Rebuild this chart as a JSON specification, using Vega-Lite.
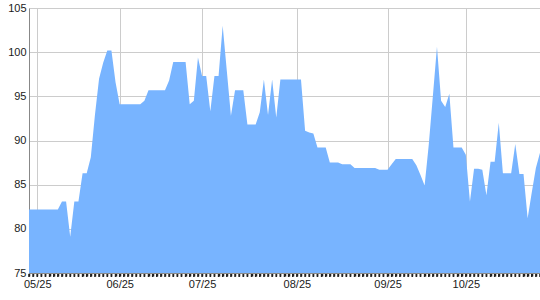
{
  "$schema": "https://vega.github.io/schema/vega-lite/v6.json",
  "autosize": {"type": "none"},
  "padding": {"left": 29, "top": 8, "right": 0, "bottom": 27},
  "width": 511,
  "height": 265,
  "background": "white",
  "config": {"view": {"stroke": null}},
  "data": {"values": [
    {"d":"05/23","v":82.2},{"d":"05/24","v":82.2},{"d":"05/25","v":82.2},{"d":"05/28","v":82.2},{"d":"05/29","v":82.2},
    {"d":"05/30","v":82.2},{"d":"05/31","v":82.2},{"d":"06/01","v":82.2},{"d":"06/04","v":83.1},{"d":"06/05","v":83.1},
    {"d":"06/06","v":79.1},{"d":"06/07","v":83.1},{"d":"06/08","v":83.1},{"d":"06/11","v":86.3},{"d":"06/12","v":86.3},
    {"d":"06/13","v":88.1},{"d":"06/14","v":92.9},{"d":"06/15","v":97.0},{"d":"06/18","v":98.8},{"d":"06/19","v":100.2},
    {"d":"06/20","v":100.2},{"d":"06/21","v":96.6},{"d":"06/25","v":94.1},{"d":"06/26","v":94.1},{"d":"06/27","v":94.1},
    {"d":"06/28","v":94.1},{"d":"06/29","v":94.1},{"d":"07/02","v":94.1},{"d":"07/03","v":94.5},{"d":"07/05","v":95.7},
    {"d":"07/06","v":95.7},{"d":"07/09","v":95.7},{"d":"07/10","v":95.7},{"d":"07/11","v":95.7},{"d":"07/12","v":96.8},
    {"d":"07/13","v":98.9},{"d":"07/16","v":98.9},{"d":"07/17","v":98.9},{"d":"07/18","v":98.9},{"d":"07/19","v":94.1},
    {"d":"07/20","v":94.5},{"d":"07/23","v":99.4},{"d":"07/25","v":97.3},{"d":"07/26","v":97.3},{"d":"07/27","v":93.3},
    {"d":"07/30","v":97.3},{"d":"07/31","v":97.3},{"d":"08/01","v":103.0},{"d":"08/02","v":97.9},{"d":"08/03","v":92.8},
    {"d":"08/06","v":95.7},{"d":"08/07","v":95.7},{"d":"08/08","v":95.7},{"d":"08/09","v":91.8},{"d":"08/10","v":91.8},
    {"d":"08/13","v":91.8},{"d":"08/14","v":93.2},{"d":"08/15","v":96.9},{"d":"08/16","v":92.9},{"d":"08/17","v":96.9},
    {"d":"08/20","v":92.6},{"d":"08/21","v":96.9},{"d":"08/22","v":96.9},{"d":"08/23","v":96.9},{"d":"08/24","v":96.9},
    {"d":"08/25","v":96.9},{"d":"08/27","v":96.9},{"d":"08/28","v":91.1},{"d":"08/29","v":90.9},{"d":"08/30","v":90.8},
    {"d":"08/31","v":89.2},{"d":"09/03","v":89.2},{"d":"09/04","v":89.2},{"d":"09/05","v":87.5},{"d":"09/06","v":87.5},
    {"d":"09/07","v":87.5},{"d":"09/10","v":87.3},{"d":"09/11","v":87.3},{"d":"09/12","v":87.3},{"d":"09/13","v":86.9},
    {"d":"09/14","v":86.9},{"d":"09/17","v":86.9},{"d":"09/18","v":86.9},{"d":"09/19","v":86.9},{"d":"09/20","v":86.9},
    {"d":"09/21","v":86.7},{"d":"09/24","v":86.7},{"d":"09/25","v":86.7},{"d":"09/26","v":87.3},{"d":"09/27","v":87.9},
    {"d":"09/28","v":87.9},{"d":"10/01","v":87.9},{"d":"10/02","v":87.9},{"d":"10/03","v":87.9},{"d":"10/04","v":87.2},
    {"d":"10/05","v":86.1},{"d":"10/08","v":84.9},{"d":"10/09","v":89.5},{"d":"10/10","v":95.0},{"d":"10/11","v":100.6},
    {"d":"10/12","v":94.5},{"d":"10/15","v":93.8},{"d":"10/16","v":95.3},{"d":"10/17","v":89.2},{"d":"10/18","v":89.2},
    {"d":"10/19","v":89.2},{"d":"10/25","v":88.4},{"d":"10/26","v":83.1},{"d":"10/29","v":86.8},{"d":"10/30","v":86.8},
    {"d":"10/31","v":86.7},{"d":"11/01","v":83.8},{"d":"11/02","v":87.6},{"d":"11/05","v":87.6},{"d":"11/06","v":92.0},
    {"d":"11/07","v":86.3},{"d":"11/08","v":86.3},{"d":"11/09","v":86.3},{"d":"11/12","v":89.6},{"d":"11/13","v":86.2},
    {"d":"11/14","v":86.2},{"d":"11/15","v":81.2},{"d":"11/16","v":84.1},{"d":"11/19","v":86.9},{"d":"11/20","v":88.6}
  ]},
  "encoding": {
    "x": {
      "field": "d", "type": "ordinal", "sort": null,
      "scale": {"type": "point", "padding": 0},
      "axis": {
        "title": null,
        "labelAngle": 0,
        "labelExpr": "indexof(['05/25','06/25','07/25','08/25','09/25','10/25'], datum.value) >= 0 ? datum.value : ''",
        "labelFont": "Liberation Sans", "labelFontSize": 11, "labelColor": "#1a1a1a",
        "labelPadding": 2, "labelOverlap": false, "labelBound": false, "labelFlush": false,
        "ticks": true, "tickSize": 3, "tickColor": "#222222", "tickWidth": 1.5,
        "domainColor": "#888888", "domainWidth": 1,
        "grid": true,
        "gridOpacity": {"condition": {"test": "indexof(['05/25','06/25','07/25','08/25','09/25','10/25'], datum.value) >= 0", "value": 1}, "value": 0},
        "gridColor": "#cccccc",
        "gridWidth": 1
      }
    }
  },
  "layer": [
    {
      "mark": {"type": "area", "color": "#78b4ff", "interpolate": "linear", "opacity": 1},
      "encoding": {
        "y": {
          "field": "v", "type": "quantitative",
          "scale": {"domain": [75, 105], "nice": false, "zero": false},
          "axis": {
            "title": null,
            "values": [75, 80, 85, 90, 95, 100, 105],
            "ticks": false,
            "labelFont": "Liberation Sans", "labelFontSize": 11, "labelColor": "#1a1a1a",
            "labelPadding": 3, "labelFlush": false,
            "domainColor": "#888888", "domainWidth": 1,
            "grid": true, "gridColor": "#cccccc", "gridWidth": 1
          }
        },
        "y2": {"datum": 75}
      }
    },
    {
      "mark": {"type": "rule", "color": "#222222", "strokeWidth": 1.5, "yOffset": 1, "y2Offset": 4},
      "encoding": {
        "y": {"datum": 75, "type": "quantitative"},
        "y2": {"datum": 75}
      }
    }
  ]
}
